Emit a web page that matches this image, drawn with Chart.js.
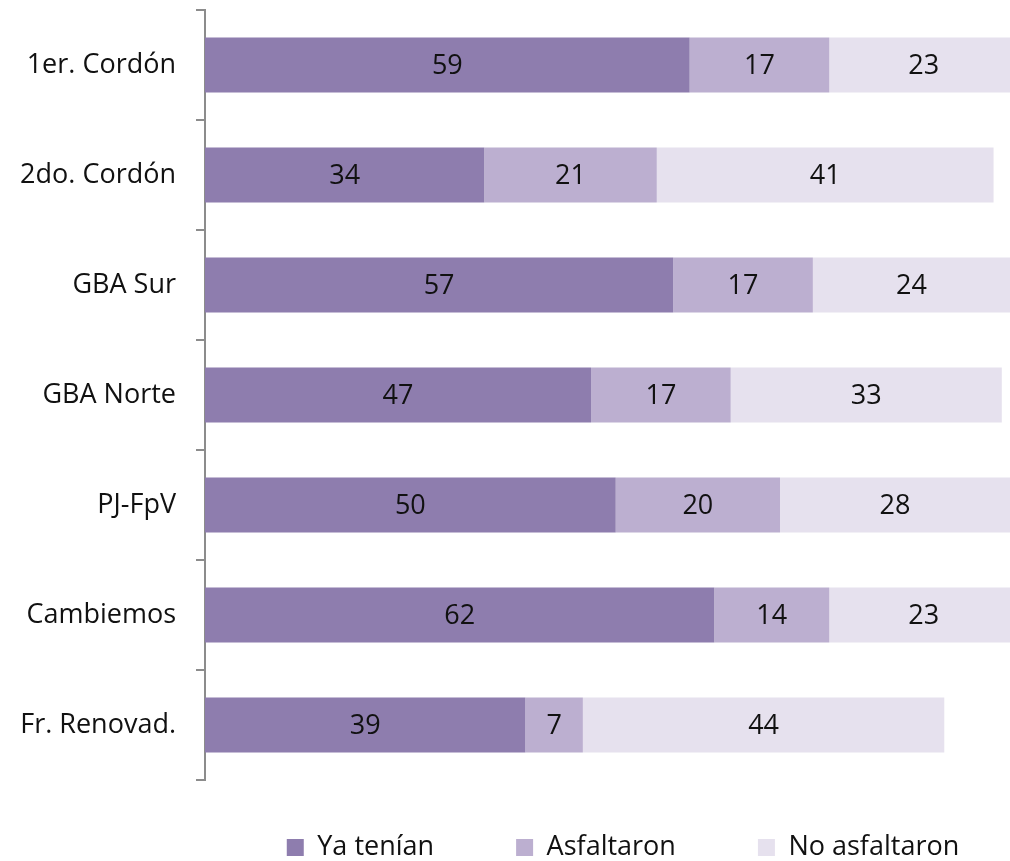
<!DOCTYPE html>
<html lang="es">
<head>
    <meta charset="UTF-8">
    <title>Asfalto por zona</title>
    <script src="https://cdn.jsdelivr.net/npm/chart.js"></script>
    <style>
        body {
            margin: 0;
            padding: 0;
            background-color: #ffffff;
        }

        #chart-container {
            width: 1010px;
            height: 861px;
        }
    </style>
</head>
<body>
    <div id="chart-container">
        <canvas id="asfaltoChart"></canvas>
    </div>

    <script>
        // Categories and series (percentages)
        const categories = ['1er. Cordón', '2do. Cordón', 'GBA Sur', 'GBA Norte', 'PJ-FpV', 'Cambiemos', 'Fr. Renovad.'];
        const yaTenian = [59, 34, 57, 47, 50, 62, 39];
        const asfaltaron = [17, 21, 17, 17, 20, 14, 7];
        const noAsfaltaron = [23, 41, 24, 33, 28, 23, 44];
        const seriesNames = ['Ya tenían', 'Asfaltaron', 'No asfaltaron'];

        const FONT = '"Open Sans", Lato, sans-serif';

        // Draws the value in the middle of each bar segment
        const valueLabels = {
            id: 'valueLabels',
            afterDatasetsDraw(chart) {
                const ctx = chart.ctx;
                ctx.save();
                ctx.font = '27px ' + FONT;
                ctx.fillStyle = '#111111';
                ctx.textAlign = 'center';
                ctx.textBaseline = 'middle';
                chart.data.datasets.forEach((ds, i) => {
                    const meta = chart.getDatasetMeta(i);
                    meta.data.forEach((bar, j) => {
                        const p = bar.getCenterPoint();
                        ctx.fillText(ds.data[j], p.x, p.y + 1);
                    });
                });
                ctx.restore();
            }
        };

        // Legend sits closer to the plot than its item spacing, and a bit right of centre
        const legendShift = {
            id: 'legendShift',
            afterLayout(chart) {
                chart.legend.top -= 28;
                chart.legend.left += 118;
                chart.legend.right += 118;
            }
        };

        const ctx = document.getElementById('asfaltoChart').getContext('2d');
        new Chart(ctx, {
            type: 'bar',
            data: {
                labels: categories,
                datasets: [
                    { label: seriesNames[0], data: yaTenian, backgroundColor: '#8E7DAE' },
                    { label: seriesNames[1], data: asfaltaron, backgroundColor: '#BCAFD0' },
                    { label: seriesNames[2], data: noAsfaltaron, backgroundColor: '#E6E1EE' }
                ]
            },
            options: {
                indexAxis: 'y',
                responsive: true,
                maintainAspectRatio: false,
                animation: false,
                layout: { padding: { top: 10, right: 0, left: 0, bottom: 0 } },
                datasets: {
                    bar: { barPercentage: 0.5, categoryPercentage: 1.0 }
                },
                scales: {
                    x: {
                        stacked: true,
                        display: false,
                        min: 0,
                        max: 98
                    },
                    y: {
                        stacked: true,
                        afterFit(scale) {
                            scale.width = 205;
                            scale.paddingTop = 0;
                            scale.paddingBottom = 0;
                        },
                        grid: {
                            drawOnChartArea: false,
                            offset: true,
                            tickLength: 9,
                            color: '#8C8C8C',
                            lineWidth: 2
                        },
                        border: { color: '#8C8C8C', width: 2 },
                        ticks: {
                            color: '#111111',
                            font: { family: FONT, size: 27 },
                            padding: 20
                        }
                    }
                },
                plugins: {
                    legend: {
                        position: 'bottom',
                        maxHeight: 81,
                        labels: {
                            boxWidth: 17,
                            boxHeight: 17,
                            color: '#111111',
                            font: { family: FONT, size: 27 },
                            padding: 82
                        }
                    },
                    tooltip: { enabled: false }
                }
            },
            plugins: [valueLabels, legendShift]
        });
    </script>
</body>
</html>
